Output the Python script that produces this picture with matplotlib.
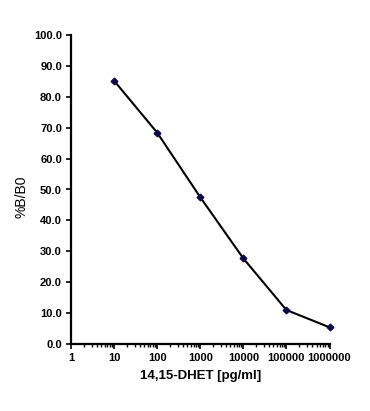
import matplotlib
matplotlib.use("Agg")
import matplotlib.pyplot as plt
from matplotlib.ticker import LogLocator, FixedLocator, FixedFormatter

conc = [10, 100, 1000, 10000, 100000, 1000000]
bb0 = [85.2, 68.4, 47.5, 27.7, 11.0, 5.4]
xticks = [1, 10, 100, 1000, 10000, 100000, 1000000]
xlabels = ["1", "10", "100", "1000", "10000", "100000", "1000000"]
yticks = [0, 10, 20, 30, 40, 50, 60, 70, 80, 90, 100]

plt.rcParams['font.family'] = ['Liberation Sans', 'DejaVu Sans']

fig = plt.figure(figsize=(3.70, 4.11), dpi=100)
ax = fig.add_axes([71/370, 1-344/411, (329.5-71)/370, (344-35)/411])

ax.plot(conc, bb0, color='black', lw=1.5, marker='D', markersize=3.4,
        markerfacecolor='#0a0a4a', markeredgecolor='#0a0a4a', clip_on=False, zorder=3)

ax.set_xscale('log')
ax.set_xlim(1, 1000000)
ax.set_ylim(0, 100)
ax.xaxis.set_major_locator(FixedLocator(xticks))
ax.xaxis.set_major_formatter(FixedFormatter(xlabels))
ax.xaxis.set_minor_locator(LogLocator(base=10, subs=range(2, 10)))
ax.xaxis.set_minor_formatter(FixedFormatter([]))
ax.set_yticks(yticks)
ax.set_yticklabels([f"{v:.1f}" for v in yticks])

for s in ['top', 'right']:
    ax.spines[s].set_visible(False)
for s in ['left', 'bottom']:
    ax.spines[s].set_linewidth(1.6)

ax.tick_params(axis='both', which='major', direction='out', length=3.5, width=1.2,
               labelsize=8, pad=3)
ax.tick_params(axis='x', which='minor', direction='out', length=2.2, width=1.0)
for lab in ax.get_xticklabels() + ax.get_yticklabels():
    lab.set_fontweight('bold')

ax.set_xlabel("14,15-DHET [pg/ml]", fontsize=9.5, fontweight='bold', labelpad=5)
ax.set_ylabel("%B/B0", fontsize=10)
ax.yaxis.set_label_coords(-0.166, 0.475)

fig.savefig("out.png", dpi=100)
